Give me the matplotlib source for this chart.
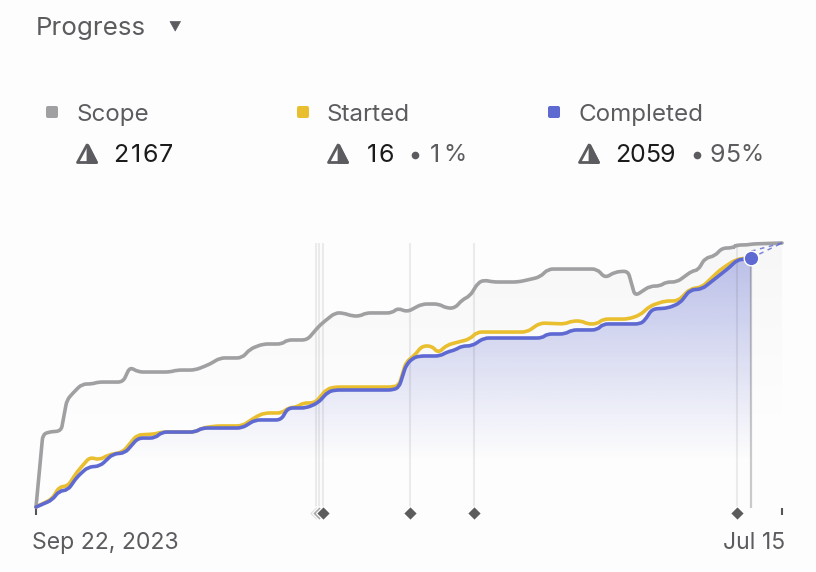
"""Progress chart: scope, started and completed issues over time"""

from matplotlib import pyplot as plt
from matplotlib.colors import to_rgb
from matplotlib.patches import FancyBboxPatch, PathPatch, Polygon
from matplotlib.path import Path
import numpy as np

plt.rcParams['font.family'] = ['Inter', 'DejaVu Sans']

BG = '#fdfdfd'
GREY = '#a0a0a3'
YELLOW = '#e9bf2f'
BLUE = '#5e6ad2'
TEXT = '#5c5c60'
DARK = '#1b1b1d'

# days since Sep 22, 2023 / number of issues
scope_days = [0, 2.7, 4.8, 10, 12.3, 14.7, 18.3, 22.3, 24.7, 34.6, 37.4, 40.6, 53.3, 56.1, 63.3, 69.3,
              73.2, 82, 85.2, 90.3, 97.9, 99.9, 107.9, 113, 119, 122.2, 125.8, 129, 131.3, 141.7, 144,
              147.7, 153.6, 160.4, 163.2, 166.8, 169.5, 172.7, 175.9, 178.3, 181.9, 191.8, 195.4, 200.6,
              203.8, 223.3, 226.5, 230.4, 235.6, 238.4, 244.4, 248.4, 250.7, 255.1, 261.1, 263.5, 266.3,
              270.2, 273, 277, 279, 283, 285, 296.9]
scope_vals = [8, 597, 621, 630, 883, 940, 1014, 1014, 1030, 1030, 1153, 1112, 1112, 1128, 1128, 1177,
              1227, 1227, 1300, 1341, 1341, 1374, 1374, 1496, 1595, 1595, 1570, 1570, 1595, 1595, 1635,
              1603, 1668, 1668, 1635, 1635, 1701, 1734, 1840, 1864, 1848, 1848, 1864, 1889,
              1954, 1954, 1881, 1930, 1938, 1734, 1815, 1815, 1848, 1848, 1938, 1946, 2044,
              2061, 2126, 2126, 2151, 2151, 2159, 2167]

started_days = [0, 6.4, 9.2, 12.7, 16.3, 21.5, 25.1, 28.7, 34.6, 40.2, 47.4, 50.1, 63.3, 66.1, 72, 82,
                88, 91.1, 97.9, 100.3, 103.9, 106.3, 111, 115.8, 119, 142.1, 144.5, 147.3, 150.8, 153.6,
                157.6, 160, 163.6, 172.7, 175.5, 195.4, 200.6, 210.5, 213.3, 217.3, 219.3, 223.3, 225.7,
                235.6, 240.4, 244.4, 250.3, 255.5, 260.3, 265.1, 272.2, 278.2, 282.2, 284.6]
started_vals = [8, 74, 172, 180, 294, 417, 392, 433, 458, 597, 605, 621, 621, 654, 671, 671,
                752, 777, 777, 818, 826, 859, 859, 973, 989, 989, 1006, 1194, 1251, 1325,
                1325, 1267, 1333, 1382, 1439, 1439, 1513, 1505, 1529, 1529, 1505, 1505, 1545,
                1545, 1578, 1652, 1693, 1693, 1791, 1807, 1946, 2028, 2044, 2044]

completed_days = [0, 6.4, 9.2, 12.7, 16.3, 20.7, 25.5, 30.6, 35.4, 40.6, 47.4, 50.1, 63.3, 66.1, 82,
                  87.2, 97.5, 100.3, 107.5, 112.2, 116.2, 119, 142.1, 144.5, 147.3, 150, 152.8, 160.8,
                  163.6, 166.8, 169.5, 173.5, 178.3, 201.4, 203.4, 210.5, 213.3, 223.3, 225.7, 240.4,
                  242.4, 245.2, 251.5, 256.3, 260.3, 265.1, 276.2, 279, 282.2, 284.6]
completed_vals = [8, 65, 139, 147, 253, 335, 343, 442, 450, 572, 572, 621, 621, 654, 654,
                  720, 720, 818, 818, 859, 949, 965, 965, 989, 1169, 1227, 1243, 1243,
                  1276, 1292, 1325, 1325, 1390, 1390, 1423, 1423, 1456, 1456, 1505, 1505,
                  1537, 1627, 1635, 1676, 1783, 1791, 1971, 2028, 2036, 2044]

started_projection_days = [284.6, 296.9]
started_projection_vals = [2100, 2167]
completed_projection_days = [284.6, 296.9]
completed_projection_vals = [2044, 2167]

milestone_days = [111.4, 112.6, 114.2, 148.9, 174.3, 279]
milestone_colors = ['#dcdcdc', '#a8a8a8', '#5c5c5c', '#5c5c5c', '#5c5c5c', '#5c5c5c']
today = 284.6
last_day = 296.9
max_issues = 2167

legend_names = ['Scope', 'Started', 'Completed']
legend_colors = [GREY, YELLOW, BLUE]
legend_counts = ['2167', '16', '2059']
legend_percents = ['', '1%', '95%']
legend_x = [46, 297, 548]
percent_dot_x = [0, 414.5, 696.7]


def gradient_fill(ax, days, vals, color, top_alpha, stop_frac):
    """Fills under a series, fading out towards the bottom of the axes"""

    rgba = np.zeros((256, 1, 4))
    rgba[:, :, :3] = to_rgb(color)
    fade = np.linspace(1, 0, 256)
    rgba[:, 0, 3] = top_alpha * np.clip((fade - stop_frac) / (1 - stop_frac), 0, 1)

    img = ax.imshow(rgba, extent=(0, last_day, 0, max_issues), aspect='auto', zorder=1, origin='upper')
    poly = Polygon(list(zip(days, vals)) + [(days[-1], 0), (days[0], 0)], transform=ax.transData)
    img.set_clip_path(poly)


def rounded_line(ax, days, vals, color, zorder, radius=5):
    """Draws a series with its corners rounded off, radius in pixels"""

    pts = ax.transData.transform(np.column_stack([days, vals]))
    verts = [pts[0]]
    codes = [Path.MOVETO]

    for i in range(1, len(pts) - 1):
        before = pts[i - 1] - pts[i]
        after = pts[i + 1] - pts[i]
        len_b = np.hypot(*before)
        len_a = np.hypot(*after)
        if len_b == 0 or len_a == 0:
            continue
        verts += [pts[i] + before / len_b * min(radius, len_b / 2), pts[i],
                  pts[i] + after / len_a * min(radius, len_a / 2)]
        codes += [Path.LINETO, Path.CURVE3, Path.CURVE3]

    verts.append(pts[-1])
    codes.append(Path.LINETO)
    ax.add_patch(PathPatch(Path(verts, codes), facecolor='none', edgecolor=color, lw=2.6,
                           transform=None, zorder=zorder, clip_on=False, capstyle='round'))


def warning_icon(ax, x, y):
    """Half filled rounded triangle next to the counts"""

    ax.add_patch(Polygon([(x + 11, y + 2), (x + 20.5, y + 19.5), (x + 1.5, y + 19.5)], closed=True,
                         facecolor=BG, edgecolor=TEXT, lw=2, joinstyle='round'))
    ax.add_patch(Polygon([(x + 12, y + 2.5), (x + 20.5, y + 19.5), (x + 12, y + 19.5)], closed=True,
                         facecolor=TEXT, edgecolor=TEXT, lw=2, joinstyle='round'))


def spaced_text(ax, x, y, text, step, **kwargs):
    """Writes a number one digit at a time, the reference has wide tracking"""

    for i, char in enumerate(text):
        ax.text(x + (i + 0.5) * step, y, char, va='center', ha='center', **kwargs)


fig = plt.figure(figsize=(8.16, 5.72), dpi=100, facecolor=BG)

# overlay in pixel coordinates for the header
top = fig.add_axes([0, 0, 1, 1])
top.set_xlim(0, 816)
top.set_ylim(572, 0)
top.axis('off')

top.text(36, 29, 'Progress', fontsize=18.7, color=TEXT, va='center', ha='left')
top.add_patch(Polygon([(170, 21.5), (180.5, 21.5), (175.2, 31)], closed=True, facecolor=TEXT,
                      edgecolor=TEXT, lw=0.5, joinstyle='round'))

for name, color, count, percent, x, dot_x in zip(legend_names, legend_colors, legend_counts,
                                                 legend_percents, legend_x, percent_dot_x):
    top.add_patch(FancyBboxPatch((x + 1, 107), 10, 10, boxstyle='round,pad=1,rounding_size=2',
                                 facecolor=color, edgecolor='none'))
    top.text(x + 30, 115, name, fontsize=17.4, color=TEXT, va='center', ha='left')
    warning_icon(top, x + 30, 143)
    spaced_text(top, x + 67, 155, count, 15, fontsize=18, color=DARK)
    if percent:
        top.plot([dot_x], [155], 'o', color=TEXT, ms=5.5, mew=0)
        spaced_text(top, dot_x + 13, 155, percent[:-1], 15, fontsize=18, color=TEXT)
        top.text(dot_x + 14 + (len(percent) - 1) * 15, 155, '%', fontsize=17, color=TEXT,
                 va='center', ha='left')

# chart area
ax = fig.add_axes([36 / 816, 1 - 508 / 572, 746 / 816, 265 / 572])
ax.patch.set_alpha(0)
ax.axis('off')

gradient_fill(ax, scope_days, scope_vals, '#808080', 0.05, 0.3)
gradient_fill(ax, completed_days, completed_vals, BLUE, 0.42, 0.18)
ax.set_xlim(0, last_day)
ax.set_ylim(0, max_issues)

ax.vlines(milestone_days, 0, max_issues, color='black', alpha=0.07, lw=1.5, zorder=2)
ax.vlines(today, 0, completed_vals[-1], color='black', alpha=0.2, lw=1.6, zorder=2)

rounded_line(ax, scope_days, scope_vals, GREY, 3)
rounded_line(ax, started_days, started_vals, YELLOW, 4)
rounded_line(ax, completed_days, completed_vals, BLUE, 5)

ax.plot(started_projection_days, started_projection_vals, color=BLUE, lw=1.1, ls=(0, (3, 3)), zorder=4,
        clip_on=False, alpha=0.8)
ax.plot(completed_projection_days, completed_projection_vals, color=BLUE, lw=1.1, ls=(0, (3, 3)), zorder=4,
        clip_on=False, alpha=0.8)
ax.plot([today], [completed_vals[-1]], 'o', color=BLUE, ms=10.5, mec='white', mew=1, zorder=6, clip_on=False)

# bottom markers
trans = ax.get_xaxis_transform()
ax.vlines([0, last_day], -0.026, 0, color='#555558', lw=1.5, transform=trans, clip_on=False)
for day, color in zip(milestone_days, milestone_colors):
    ax.plot([day], [-0.019], 'D', color=color, ms=7.6, mec=BG, mew=0.9, transform=trans, clip_on=False, zorder=7)

top.text(32, 543, 'Sep 22, 2023', fontsize=16.6, color=TEXT, va='center', ha='left')
top.text(785, 543, 'Jul 15', fontsize=16.6, color=TEXT, va='center', ha='right')

fig.savefig('out.png', dpi=100, facecolor=BG)
